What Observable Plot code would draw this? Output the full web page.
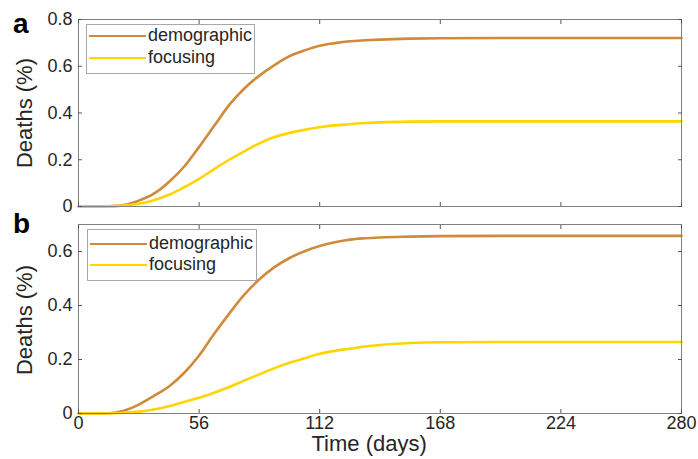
<!DOCTYPE html>
<html>
<head>
<meta charset="utf-8">
<script src="https://cdn.jsdelivr.net/npm/d3@7"></script>
<script src="https://cdn.jsdelivr.net/npm/@observablehq/plot@0.6"></script>
<style>
  html, body { margin: 0; padding: 0; background: #fff; }
  #fig { position: relative; width: 698px; height: 459px; font-family: "Liberation Sans", Arial, sans-serif; color: #262626; }
  #fig svg { position: absolute; left: 0; }
  .lbl { position: absolute; white-space: nowrap; line-height: 1; }
  .panel { font-weight: bold; font-size: 28px; color: #000; }
  .ylab { font-size: 22px; transform-origin: center center; }
  .legend { position: absolute; border: 1px solid #a8a8a8; background: #fff; }
  .legend .sw { position: absolute; left: 2px; width: 57px; height: 2.5px; }
  .legend .tx { position: absolute; left: 61px; font-size: 18px; line-height: 1; color: #262626; }
</style>
</head>
<body>
<div id="fig"></div>
<script>
// ---- data ----
const days = [0, 7, 14, 21, 28, 35, 42, 49, 56, 63, 70, 77, 84, 91, 98, 105, 112, 119, 126, 133, 140, 154, 168, 196, 224, 252, 280];
const aDemographic = [0, 0, 0.001, 0.006, 0.025, 0.055, 0.105, 0.17, 0.255, 0.345, 0.435, 0.505, 0.56, 0.605, 0.643, 0.668, 0.688, 0.699, 0.707, 0.711, 0.714, 0.718, 0.72, 0.721, 0.721, 0.721, 0.721];
const aFocusing    = [0, 0, 0.001, 0.004, 0.012, 0.027, 0.05, 0.082, 0.118, 0.16, 0.2, 0.236, 0.27, 0.297, 0.315, 0.328, 0.339, 0.347, 0.352, 0.357, 0.36, 0.363, 0.364, 0.364, 0.364, 0.364, 0.364];
const bDemographic = [0, 0, 0.001, 0.01, 0.033, 0.065, 0.1, 0.15, 0.215, 0.295, 0.37, 0.44, 0.497, 0.542, 0.576, 0.601, 0.62, 0.634, 0.644, 0.649, 0.652, 0.655, 0.657, 0.658, 0.658, 0.658, 0.658];
const bFocusing    = [0, 0, 0.001, 0.003, 0.007, 0.015, 0.027, 0.043, 0.058, 0.077, 0.098, 0.122, 0.145, 0.168, 0.188, 0.205, 0.221, 0.232, 0.24, 0.248, 0.254, 0.261, 0.264, 0.265, 0.265, 0.265, 0.265];
const seriesNames = ["demographic", "focusing"];
const seriesColors = ["#cf8b3b", "#ffd500"];
const xTicks = [0, 56, 112, 168, 224, 280];
const aYTicks = [0, 0.2, 0.4, 0.6, 0.8];
const bYTicks = [0, 0.2, 0.4, 0.6];

const toRows = (vals, name) => days.map((t, i) => ({t, v: vals[i], s: name}));
const fmtY = d => d === 0 ? "0" : d.toFixed(1);

function panel({rows, yDomain, yTicks, height, marginTop, marginBottom, xLabels}) {
  return Plot.plot({
    width: 698, height, marginLeft: 78, marginRight: 17, marginTop, marginBottom,
    style: {fontFamily: '"Liberation Sans", Arial, sans-serif', fontSize: "18px", color: "#262626", background: "transparent", overflow: "visible"},
    x: {domain: [0, 280]},
    y: {domain: yDomain},
    color: {domain: seriesNames, range: seriesColors},
    marks: [
      Plot.line(rows, {x: "t", y: "v", stroke: "s", strokeWidth: 2.6, curve: "monotone-x"}),
      Plot.frame({stroke: "#808080", strokeWidth: 1}),
      Plot.axisX(xTicks, {anchor: "bottom", tickSize: -4, stroke: "#555", fill: "none", label: null}),
      Plot.axisX(xTicks, {anchor: "top", tickSize: -4, stroke: "#555", fill: "none", label: null}),
      Plot.axisY(yTicks, {anchor: "left", tickSize: -4, stroke: "#555", fill: "none", label: null}),
      Plot.axisY(yTicks, {anchor: "right", tickSize: -4, stroke: "#555", fill: "none", label: null}),
      Plot.axisY(yTicks, {anchor: "left", tickSize: 0, tickPadding: 6, tickFormat: fmtY, label: null, fill: "#262626"}),
      xLabels ? Plot.axisX(xTicks, {anchor: "bottom", tickSize: 0, tickPadding: 3, label: null, fill: "#262626"}) : null
    ]
  });
}

const fig = document.getElementById("fig");

const pa = panel({
  rows: [...toRows(aDemographic, "demographic"), ...toRows(aFocusing, "focusing")],
  yDomain: [0, 0.8], yTicks: aYTicks, height: 215, marginTop: 19, marginBottom: 9, xLabels: false
});
pa.style.top = "0px";
fig.appendChild(pa);

const pb = panel({
  rows: [...toRows(bDemographic, "demographic"), ...toRows(bFocusing, "focusing")],
  yDomain: [0, 0.7], yTicks: bYTicks, height: 244, marginTop: 9, marginBottom: 46, xLabels: true
});
pb.style.top = "215px";
fig.appendChild(pb);

function addLabel(text, cls, left, top) {
  const d = document.createElement("div");
  d.className = "lbl " + cls;
  d.textContent = text;
  d.style.left = left + "px";
  d.style.top = top + "px";
  fig.appendChild(d);
  return d;
}

addLabel("a", "panel", 13, 10);
addLabel("b", "panel", 13, 210);

function yLabel(cy) {
  const d = addLabel("Deaths (%)", "ylab", 0, 0);
  const w = d.offsetWidth, h = d.offsetHeight;
  d.style.left = (25 - w / 2) + "px";
  d.style.top = (cy - h / 2) + "px";
  d.style.transform = "rotate(-90deg)";
}
yLabel(113);
yLabel(320);

const xl = addLabel("Time (days)", "ylab", 0, 433);
xl.style.left = (369 - xl.offsetWidth / 2) + "px";

function legend(left, top, w, h, rowYs) {
  const lg = document.createElement("div");
  lg.className = "legend";
  Object.assign(lg.style, {left: left + "px", top: top + "px", width: w + "px", height: h + "px"});
  seriesNames.forEach((name, i) => {
    const sw = document.createElement("div");
    sw.className = "sw";
    sw.style.top = (rowYs[i] - 1.25) + "px";
    sw.style.background = seriesColors[i];
    lg.appendChild(sw);
    const tx = document.createElement("div");
    tx.className = "tx";
    tx.textContent = name;
    tx.style.top = (rowYs[i] - 10) + "px";
    lg.appendChild(tx);
  });
  fig.appendChild(lg);
}
legend(86, 24, 167, 48, [11, 33]);
legend(87, 229, 168, 50, [14, 35]);
</script>
</body>
</html>
